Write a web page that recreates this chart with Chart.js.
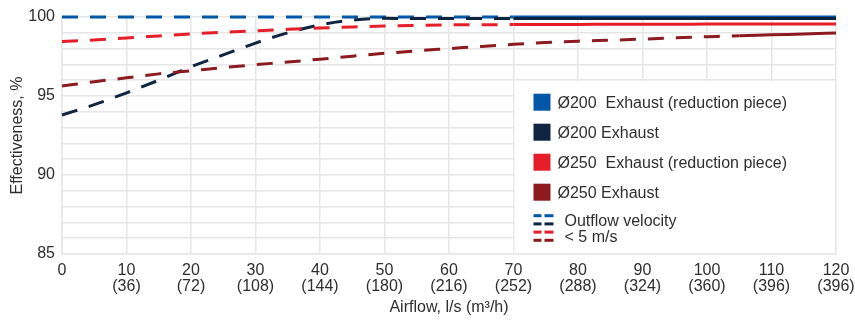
<!DOCTYPE html>
<html><head><meta charset="utf-8">
<script src="https://cdn.jsdelivr.net/npm/chart.js@4/dist/chart.umd.min.js"></script>
<style>html,body{margin:0;padding:0;background:#fff}canvas{display:block}</style>
</head><body>
<canvas id="c" width="855" height="320"></canvas>
<script>
// ---- data ----
const airflow = [0,5,10,15,20,25,30,35,40,45,50,55,60,65,70,75,80,85,90,95,100,105,110,115,120];
const d200Reduction = [100,100,100,100,100,100,100,100,100,100,100,100,100,100,100,100,100,100,100,100,100,100,100,100,100];
const d200Exhaust = [93.8,94.45,95.2,96.0,96.85,97.6,98.35,99.0,99.5,99.8,99.92,99.9,99.9,99.9,99.9,99.9,99.9,99.9,99.9,99.9,99.9,99.9,99.9,99.9,99.9];
const d250Reduction = [98.45,98.55,98.67,98.8,98.93,99.03,99.13,99.22,99.3,99.37,99.43,99.47,99.5,99.51,99.52,99.53,99.53,99.54,99.54,99.54,99.55,99.55,99.55,99.55,99.55];
const d250Exhaust = [95.63,95.9,96.15,96.4,96.6,96.8,96.98,97.15,97.33,97.52,97.7,97.86,98.0,98.14,98.27,98.38,98.47,98.53,98.6,98.68,98.75,98.82,98.87,98.93,98.98];
const dashedUntil = [70,70,70,105]; // airflow below which outflow velocity < 5 m/s (dashed)
const seriesNames = ['Ø200  Exhaust (reduction piece)','Ø200 Exhaust','Ø250  Exhaust (reduction piece)','Ø250 Exhaust'];
const seriesColors = ['#0057a8','#0e2441','#e61e28','#8c1a1f'];
const xTickValues = [0,10,20,30,40,50,60,70,80,90,100,110,120];
const xTickSecond = ['','(36)','(72)','(108)','(144)','(180)','(216)','(252)','(288)','(324)','(360)','(396)','(396)'];
const yTickLabels = [85,90,95,100];
const velocityNote = ['Outflow velocity','< 5 m/s'];
const xTitle = 'Airflow, l/s (m³/h)';
const yTitle = 'Effectiveness, %';

const FONT = '"Liberation Sans", Arial, Helvetica, sans-serif';
const TEXT = '#2e2e2e';
const GRID = '#e6e6e6';
const DASH = [16,12];

const seriesValues = [d200Reduction, d200Exhaust, d250Reduction, d250Exhaust];
const datasets = seriesValues.map((vals, i) => ({
  label: seriesNames[i],
  data: airflow.map((x, j) => ({x: x, y: vals[j]})),
  borderColor: seriesColors[i],
  backgroundColor: seriesColors[i],
  borderWidth: 3,
  pointRadius: 0,
  fill: false,
  clip: 6,
  cubicInterpolationMode: 'monotone',
  segment: { borderDash: ctx => ctx.p0.parsed.x < dashedUntil[i] ? DASH : [] }
}));
// draw order: light series under dark ones, Ø200 reduction piece on top
const ordered = [datasets[2], datasets[3], datasets[1], datasets[0]];

const legendPlugin = {
  id: 'customLegend',
  afterDraw(chart) {
    const {ctx, scales: {x, y}} = chart;
    const left = x.getPixelForValue(70) + 1;
    const right = x.getPixelForValue(120) - 1;
    const top = y.getPixelForValue(96) + 1;
    const bottom = y.getPixelForValue(85) - 1;
    ctx.save();
    ctx.fillStyle = '#ffffff';
    ctx.fillRect(left, top, right - left, bottom - top);
    const bx = left + 19;
    ctx.font = '16px ' + FONT;
    ctx.textBaseline = 'middle';
    ctx.textAlign = 'left';
    seriesNames.forEach((name, i) => {
      const cy = top + 21 + i * 30;
      ctx.fillStyle = seriesColors[i];
      ctx.fillRect(bx, cy - 8.5, 17, 17);
      ctx.fillStyle = TEXT;
      ctx.fillText(name, bx + 24, cy + 1);
    });
    const dy0 = top + 134.5;
    seriesColors.forEach((c, k) => {
      const yy = dy0 + k * 8.2;
      ctx.fillStyle = c;
      ctx.fillRect(bx, yy - 1.5, 8, 3);
      ctx.fillRect(bx + 11, yy - 1.5, 9, 3);
    });
    ctx.fillStyle = TEXT;
    ctx.fillText(velocityNote[0], bx + 31, top + 140);
    ctx.fillText(velocityNote[1], bx + 31, top + 156);
    ctx.restore();
  }
};

new Chart(document.getElementById('c'), {
  type: 'line',
  data: { datasets: ordered },
  options: {
    responsive: false,
    animation: false,
    devicePixelRatio: 1,
    layout: { padding: { top: 17, right: 19, left: 0, bottom: 0 } },
    plugins: { legend: { display: false }, tooltip: { enabled: false } },
    scales: {
      x: {
        type: 'linear', min: 0, max: 120,
        afterBuildTicks: s => { s.ticks = xTickValues.map(v => ({value: v})); },
        afterFit: s => { s.height = 66; s.paddingLeft = 0; s.paddingRight = 0; },
        grid: { color: GRID, lineWidth: 1.5, drawTicks: false },
        border: { color: GRID, width: 1.5 },
        ticks: {
          padding: 9, color: TEXT, maxRotation: 0, autoSkip: false,
          font: { family: FONT, size: 16, lineHeight: 1.0 },
          callback: (v) => { const i = xTickValues.indexOf(v); return xTickSecond[i] ? [String(v), xTickSecond[i]] : String(v); }
        },
        title: { display: true, text: xTitle, color: TEXT, font: { family: FONT, size: 16 }, padding: { top: 0, bottom: 3 } }
      },
      y: {
        type: 'linear', min: 85, max: 100,
        ticks: {
          stepSize: 1, padding: 7, color: TEXT, autoSkip: false,
          font: { family: FONT, size: 16 },
          callback: v => yTickLabels.includes(v) ? String(v) : ''
        },
        afterFit: s => { s.width = 62; s.paddingTop = 0; s.paddingBottom = 0; },
        grid: { color: GRID, lineWidth: 1.5, drawTicks: false },
        border: { color: GRID, width: 1.5 },
        title: { display: true, text: yTitle, color: TEXT, font: { family: FONT, size: 16 }, padding: { top: 8, bottom: 0 } }
      }
    }
  },
  plugins: [legendPlugin]
});
</script>
</body></html>
